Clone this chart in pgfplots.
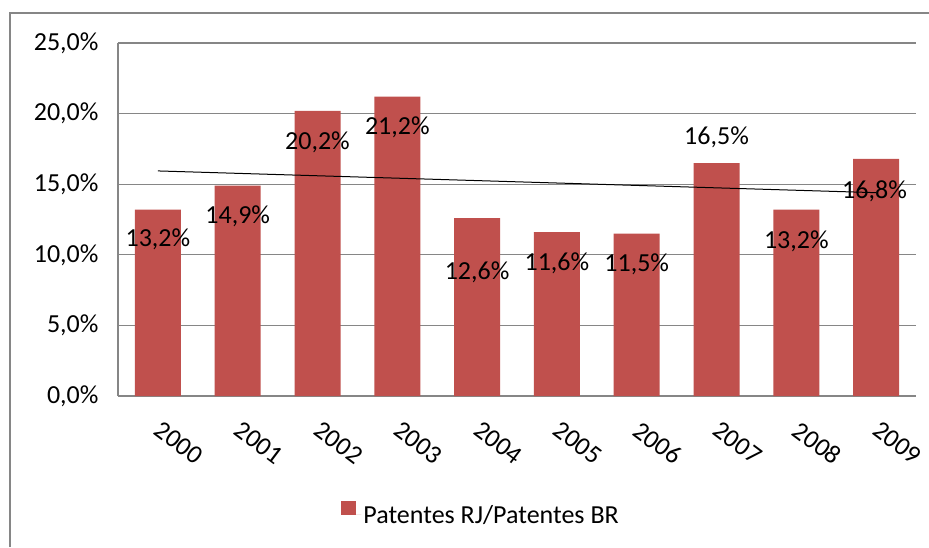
\documentclass[border=0pt]{standalone}
\usepackage{fontspec}
\setmainfont{Carlito}
\usepackage{pgfplots}
\pgfplotsset{compat=1.18}
\definecolor{barred}{RGB}{192,80,77}
\definecolor{gridgray}{RGB}{134,134,134}
\begin{document}
\begin{tikzpicture}
\path[use as bounding box] (-118pt,-151pt) rectangle (811pt,396pt);
\draw[gridgray, line width=2pt] (-108pt,-151pt) -- (-108pt,383pt) -- (811pt,383pt);
\begin{axis}[
  scale only axis,
  width=798pt, height=353pt,
  xmin=-0.5, xmax=9.5,
  ymin=0, ymax=25,
  axis x line=bottom, axis y line=left,
  axis line style={-, gridgray, line width=1.2pt},
  ytick={0,5,10,15,20,25},
  yticklabels={{0,0\%},{5,0\%},{10,0\%},{15,0\%},{20,0\%},{25,0\%}},
  xtick={0,1,2,3,4,5,6,7,8,9},
  xticklabels={2000,2001,2002,2003,2004,2005,2006,2007,2008,2009},
  major tick length=0pt,
  ymajorgrids,
  grid style={gridgray, line width=1.2pt},
  tick label style={font=\fontsize{26}{31}\selectfont, text=black},
  yticklabel style={xshift=-16pt},
  xticklabel style={xshift=21pt, yshift=-47pt, rotate=-37, anchor=center},
  legend style={at={(0.455,-0.334)}, anchor=center, draw=none, fill=none,
    font=\fontsize{26}{31}\selectfont, inner sep=0pt},
  legend image code/.code={\fill[barred] (0pt,-0.5pt) rectangle (15pt,13.5pt);
    \path (0pt,0pt) -- (20pt,0pt);},
]
\addplot[ybar, bar width=46pt, fill=barred, draw=none] coordinates {
  (0,13.2) (1,14.9) (2,20.2) (3,21.2) (4,12.6)
  (5,11.6) (6,11.5) (7,16.5) (8,13.2) (9,16.8)};
\addlegendentry{Patentes RJ/Patentes BR}
\addplot[black, line width=1pt, forget plot] coordinates {(0,15.94) (9,14.40)};
\begin{scope}[every node/.style={anchor=base, font=\fontsize{26}{31}\selectfont, inner sep=0pt}]
\node at (axis cs:0,10.60) {13,2\%};
\node at (axis cs:1,12.25) {14,9\%};
\node at (axis cs:2,17.44) {20,2\%};
\node at (axis cs:3,18.51) {21,2\%};
\node at (axis cs:4,8.22) {12,6\%};
\node at (axis cs:5,8.92) {11,6\%};
\node at (axis cs:6,8.83) {11,5\%};
\node at (axis cs:7,17.80) {16,5\%};
\node at (axis cs:8,10.46) {13,2\%};
\node at (axis cs:8.98,14.02) {16,8\%};
\end{scope}
\end{axis}
\end{tikzpicture}
\end{document}
